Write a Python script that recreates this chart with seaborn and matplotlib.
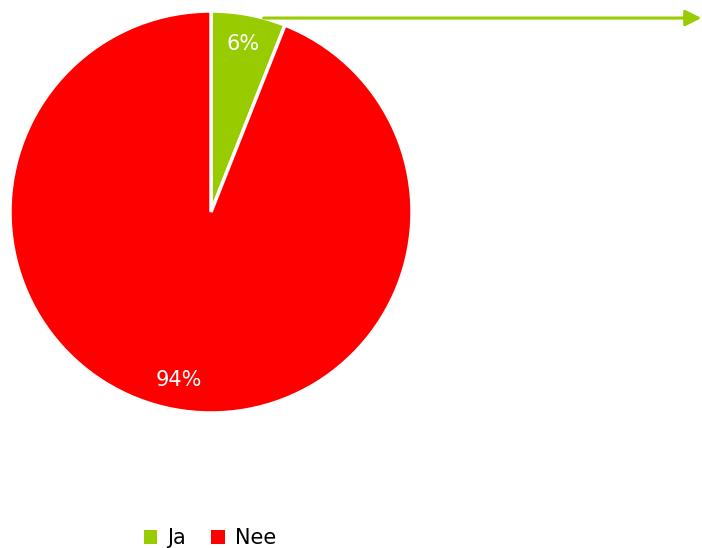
import matplotlib
matplotlib.use("Agg")
import matplotlib.pyplot as plt
from matplotlib.patches import Patch
import seaborn as sns
import numpy as np

# data
labels = ["Ja", "Nee"]
values = [6, 94]
colors = ["#99CC00", "#FF0000"]

sns.set_theme(style="white")
plt.rcParams['font.family'] = ['DejaVu Sans']

fig = plt.figure(figsize=(7.02, 5.48), dpi=100)
# place the pie so it sits in the upper-left part of the figure
ax = fig.add_axes([10 / 702, 135 / 548, 402 / 702, 402 / 548])

wedges, texts, autotexts = ax.pie(
    values, colors=colors, startangle=90, counterclock=False,
    autopct='%1.0f%%', pctdistance=0.85, radius=1,
    wedgeprops=dict(edgecolor='white', linewidth=2.5),
    textprops=dict(color='white', fontsize=15))
ax.set_xlim(-1, 1)
ax.set_ylim(-1, 1)
ax.set_aspect('equal')
ax.axis('off')

# arrow pointing out from the small slice
y_arrow = 0.965
x_start = np.sqrt(1 - y_arrow ** 2)
ax.annotate('', xy=(2.44, y_arrow), xytext=(x_start, y_arrow),
            arrowprops=dict(arrowstyle='-|>,head_length=0.8,head_width=0.4',
                            color=colors[0], lw=2.2, shrinkA=0, shrinkB=0),
            annotation_clip=False)

handles = [Patch(facecolor=c, edgecolor='none', label=l) for c, l in zip(colors, labels)]
fig.legend(handles=handles, loc='lower center', bbox_to_anchor=(210 / 702, -0.035),
           ncol=2, frameon=False, fontsize=15, labelcolor='black',
           handlelength=0.65, handleheight=0.65,
           handletextpad=0.5, columnspacing=1.2)

fig.savefig('out.png', dpi=100)
